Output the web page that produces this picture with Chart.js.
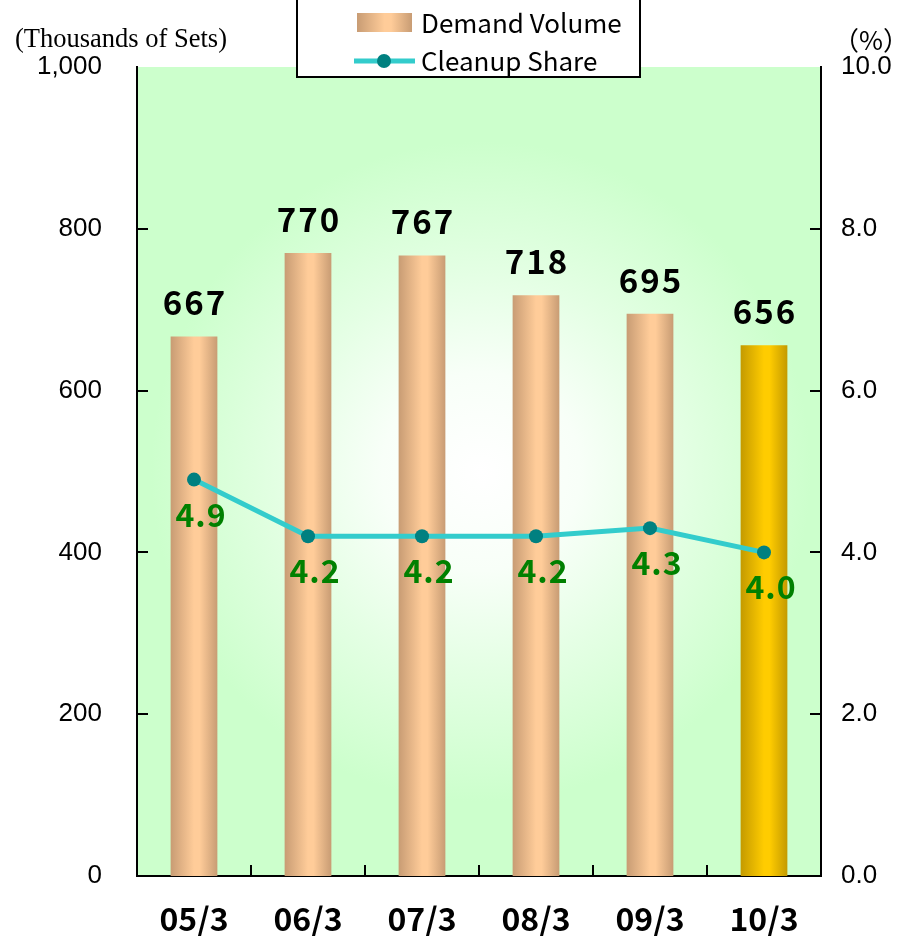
<!DOCTYPE html>
<html>
<head>
<meta charset="utf-8">
<script src="https://cdn.jsdelivr.net/npm/chart.js@4.4.1/dist/chart.umd.min.js"></script>
<style>
html,body{margin:0;padding:0;background:#fff;}
#wrap{width:912px;height:936px;position:relative;}
</style>
</head>
<body>
<div id="wrap"><canvas id="c" width="912" height="936"></canvas></div>
<script>
const categories = ["05/3", "06/3", "07/3", "08/3", "09/3", "10/3"];
const demandVolume = [667, 770, 767, 718, 695, 656];
const cleanupShare = [4.9, 4.2, 4.2, 4.2, 4.3, 4.0];
const leftTicks = [0, 200, 400, 600, 800, 1000];
const rightTicks = [0, 2, 4, 6, 8, 10];
const seriesNames = ["Demand Volume", "Cleanup Share"];
const leftTitle = "(Thousands of Sets)";
const rightTitle = "（%）";

const BAR_PCT = 0.41;
const CJK = "'Noto Sans CJK JP', 'Noto Sans', sans-serif";
const SANS = "'Liberation Sans', Arial, sans-serif";

function barGradient(ctx2d, x0, x1, last) {
  const g = ctx2d.createLinearGradient(x0, 0, x1, 0);
  if (last) {
    g.addColorStop(0, '#c49a00');
    g.addColorStop(0.5, '#ffcc00');
    g.addColorStop(0.62, '#ffcc00');
    g.addColorStop(1, '#c49a00');
  } else {
    g.addColorStop(0, '#c89c74');
    g.addColorStop(0.5, '#ffcc99');
    g.addColorStop(0.62, '#ffcc99');
    g.addColorStop(1, '#c89c74');
  }
  return g;
}

const bgPlugin = {
  id: 'bg',
  beforeDraw(chart) {
    const {ctx, chartArea: a} = chart;
    const cx = (a.left + a.right) / 2 + 2, cy = (a.top + a.bottom) / 2;
    const g = ctx.createRadialGradient(cx, cy, 0, cx, cy, 330);
    g.addColorStop(0, '#ffffff');
    g.addColorStop(0.3, '#f8fff8');
    g.addColorStop(0.6, '#e4ffe4');
    g.addColorStop(1, '#ccffcc');
    ctx.save();
    ctx.fillStyle = g;
    ctx.fillRect(a.left, a.top, a.right - a.left, a.bottom - a.top);
    ctx.restore();
  },
  afterDraw(chart) {
    const {ctx, chartArea: a, scales} = chart;
    ctx.save();
    // inward tick marks
    ctx.strokeStyle = '#000';
    ctx.lineWidth = 2;
    ctx.beginPath();
    leftTicks.forEach(v => {
      if (v === 0 || v === 1000) return;
      const y = Math.round(scales.y.getPixelForValue(v));
      ctx.moveTo(a.left, y); ctx.lineTo(a.left + 11, y);
    });
    rightTicks.forEach(v => {
      if (v === 0 || v === 10) return;
      const y = Math.round(scales.y2.getPixelForValue(v));
      ctx.moveTo(a.right, y); ctx.lineTo(a.right - 11, y);
    });
    const step = (a.right - a.left) / categories.length;
    for (let i = 1; i < categories.length; i++) {
      const x = Math.round(a.left + step * i);
      ctx.moveTo(x, a.bottom); ctx.lineTo(x, a.bottom - 11);
    }
    ctx.stroke();

    // axis titles
    ctx.fillStyle = '#000';
    ctx.textBaseline = 'middle';
    ctx.textAlign = 'center';
    ctx.font = "26.5px 'Liberation Serif', serif";
    ctx.fillText(leftTitle, 121, 40);
    ctx.font = "26px " + CJK;
    ctx.fillText(rightTitle, 871, 40);

    // data labels
    const lineMeta = chart.getDatasetMeta(0), barMeta = chart.getDatasetMeta(1);
    ctx.font = "bold 33px " + CJK;
    ctx.letterSpacing = '2px';
    ctx.textBaseline = 'alphabetic';
    ctx.fillStyle = '#000';
    barMeta.data.forEach((el, i) => {
      ctx.fillText(String(demandVolume[i]), el.x + 1, el.y - 21);
    });
    ctx.fillStyle = '#008000';
    ctx.font = "bold 32px " + CJK;
    ctx.letterSpacing = '1px';
    lineMeta.data.forEach((el, i) => {
      ctx.fillText(cleanupShare[i].toFixed(1), el.x + 7, el.y + 47);
    });
    ctx.letterSpacing = '0px';

    // legend
    const lx = 297, ly = -1, lw = 343, lh = 78;
    ctx.fillStyle = '#fff';
    ctx.fillRect(lx, ly, lw, lh);
    ctx.strokeStyle = '#000';
    ctx.lineWidth = 2;
    ctx.strokeRect(lx, ly, lw, lh);
    ctx.fillStyle = barGradient(ctx, 357, 412, false);
    ctx.fillRect(357, 13, 55, 19);
    ctx.strokeStyle = '#33cccc';
    ctx.lineWidth = 5;
    ctx.beginPath(); ctx.moveTo(354, 61); ctx.lineTo(415, 61); ctx.stroke();
    ctx.fillStyle = '#008080';
    ctx.beginPath(); ctx.arc(384, 61, 7, 0, Math.PI * 2); ctx.fill();
    ctx.fillStyle = '#000';
    ctx.font = "26px " + CJK;
    ctx.textAlign = 'left';
    ctx.textBaseline = 'middle';
    ctx.fillText(seriesNames[0], 421, 23);
    ctx.fillText(seriesNames[1], 421, 61);
    ctx.restore();
  }
};

new Chart(document.getElementById('c'), {
  data: {
    labels: categories,
    datasets: [
      {
        type: 'line',
        label: seriesNames[1],
        data: cleanupShare,
        yAxisID: 'y2',
        borderColor: '#33cccc',
        borderWidth: 5,
        pointBackgroundColor: '#008080',
        pointBorderColor: '#008080',
        pointRadius: 7,
        pointBorderWidth: 0,
        tension: 0,
        order: 0
      },
      {
        type: 'bar',
        label: seriesNames[0],
        data: demandVolume,
        yAxisID: 'y',
        barPercentage: BAR_PCT,
        categoryPercentage: 1,
        order: 1,
        backgroundColor(c) {
          const chart = c.chart;
          const a = chart.chartArea;
          const last = c.dataIndex === categories.length - 1;
          if (!a) return last ? '#ffcc00' : '#ffcc99';
          const step = (a.right - a.left) / categories.length;
          const cx = a.left + step * (c.dataIndex + 0.5);
          const w = step * BAR_PCT;
          return barGradient(chart.ctx, cx - w / 2, cx + w / 2, last);
        }
      }
    ]
  },
  options: {
    responsive: false,
    animation: false,
    layout: {padding: {top: 67, left: 0, right: 0, bottom: 0}},
    plugins: {legend: {display: false}, tooltip: {enabled: false}},
    scales: {
      x: {
        offset: true,
        grid: {display: false},
        border: {display: true, color: '#000', width: 2},
        ticks: {color: '#000', font: {family: CJK, size: 32, weight: 'bold'}, padding: 16},
        afterFit(s) { s.height = 60; }
      },
      y: {
        position: 'left',
        min: 0, max: 1000,
        afterBuildTicks(s) { s.ticks = leftTicks.map(v => ({value: v})); },
        grid: {display: false},
        border: {display: true, color: '#000', width: 2},
        ticks: {color: '#000', font: {family: SANS, size: 26}, padding: 27,
          callback: v => v.toLocaleString('en-US')},
        afterFit(s) { s.width = 137; }
      },
      y2: {
        position: 'right',
        min: 0, max: 10,
        afterBuildTicks(s) { s.ticks = rightTicks.map(v => ({value: v})); },
        grid: {display: false},
        border: {display: true, color: '#000', width: 2},
        ticks: {color: '#000', font: {family: SANS, size: 26}, padding: 12,
          callback: v => Number(v).toFixed(1)},
        afterFit(s) { s.width = 91; }
      }
    }
  },
  plugins: [bgPlugin]
});
</script>
</body>
</html>
